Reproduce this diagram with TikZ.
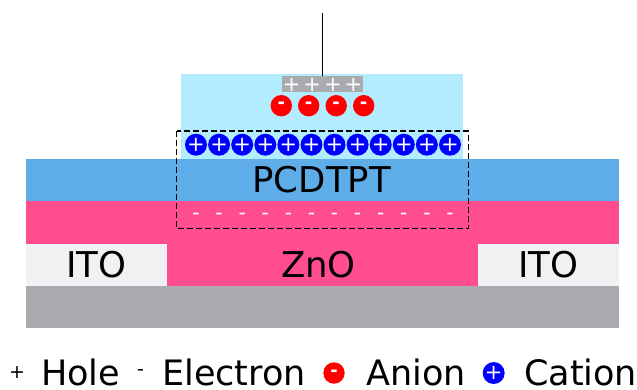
\documentclass[tikz,border=0pt]{standalone}
\usepackage{fontspec}
\setmainfont{DejaVu Sans}
\definecolor{gatelayer}{HTML}{B3ECFF}
\definecolor{pcdtptlayer}{HTML}{5FADE8}
\definecolor{znolayer}{HTML}{FF4D8F}
\definecolor{itolayer}{HTML}{F0F1F3}
\definecolor{subslayer}{HTML}{AAABAF}
\tikzset{
  layername/.style={anchor=base, inner sep=0pt, font=\fontsize{35.5}{35.5}\selectfont},
  legendname/.style={anchor=base west, inner sep=0pt, font=\fontsize{35}{35}\selectfont},
  anion/.style={circle, fill=red, minimum size=21.4pt, inner sep=0pt, text=white, font=\fontsize{18}{18}\selectfont\bfseries},
  cation/.style={circle, fill=blue, minimum size=21.4pt, inner sep=0pt, text=white, font=\fontsize{21}{21}\selectfont},
  gatebox/.style={fill=subslayer, minimum width=81pt, minimum height=16.4pt, inner sep=0pt},
  holemark/.style={inner sep=0pt, text=white, font=\fontsize{21}{21}\selectfont},
  electronmark/.style={inner sep=0pt, text=white, font=\fontsize{20}{20}\selectfont},
  legendmark/.style={inner sep=0pt, text=black, font=\fontsize{19}{19}\selectfont}
}
\begin{document}
\begin{tikzpicture}[x=1pt, y=-1pt]
\useasboundingbox (0,0) rectangle (637,389);
\fill[gatelayer] (181.3,74) rectangle (463.3,159);
\fill[pcdtptlayer] (26,159) rectangle (619,201);
\fill[znolayer] (26,201) rectangle (619,286);
\fill[itolayer] (26,243.5) rectangle (167,286);
\fill[itolayer] (478,243.5) rectangle (619,286);
\fill[subslayer] (26,286) rectangle (619,328);
\node[layername] (pcdtpt) at (321.7,192.7) {PCDTPT};
\node[layername] (itoleft) at (96.4,277.7) {ITO};
\node[layername] (zno) at (318.5,277.7) {ZnO};
\node[layername] (itoright) at (548.5,277.7) {ITO};
\node[gatebox] (gate) at (322.5,84.2) {};
\coordinate (probe) at (322.5,13);
\draw[line width=1pt] (probe) -- (gate.north);
\node[holemark] (hole1) at (291.7,84.7) {+};
\node[holemark] (hole2) at (312.2,84.7) {+};
\node[holemark] (hole3) at (332.8,84.7) {+};
\node[holemark] (hole4) at (353.3,84.7) {+};
\node[anion] (anion1) at (281.3,105.7) {\raisebox{-0.27em}{-}};
\node[anion] (anion2) at (308.7,105.7) {\raisebox{-0.27em}{-}};
\node[anion] (anion3) at (336.2,105.7) {\raisebox{-0.27em}{-}};
\node[anion] (anion4) at (363.7,105.7) {\raisebox{-0.27em}{-}};
\node[cation] (cation1) at (196,144.7) {+};
\node[cation] (cation2) at (219.1,144.7) {+};
\node[cation] (cation3) at (242.2,144.7) {+};
\node[cation] (cation4) at (265.3,144.7) {+};
\node[cation] (cation5) at (288.4,144.7) {+};
\node[cation] (cation6) at (311.5,144.7) {+};
\node[cation] (cation7) at (334.5,144.7) {+};
\node[cation] (cation8) at (357.6,144.7) {+};
\node[cation] (cation9) at (380.7,144.7) {+};
\node[cation] (cation10) at (403.8,144.7) {+};
\node[cation] (cation11) at (426.9,144.7) {+};
\node[cation] (cation12) at (450,144.7) {+};
\node[electronmark] (electron1) at (196,216) {\raisebox{-0.27em}{-}};
\node[electronmark] (electron2) at (219.1,216) {\raisebox{-0.27em}{-}};
\node[electronmark] (electron3) at (242.2,216) {\raisebox{-0.27em}{-}};
\node[electronmark] (electron4) at (265.3,216) {\raisebox{-0.27em}{-}};
\node[electronmark] (electron5) at (288.4,216) {\raisebox{-0.27em}{-}};
\node[electronmark] (electron6) at (311.5,216) {\raisebox{-0.27em}{-}};
\node[electronmark] (electron7) at (334.5,216) {\raisebox{-0.27em}{-}};
\node[electronmark] (electron8) at (357.6,216) {\raisebox{-0.27em}{-}};
\node[electronmark] (electron9) at (380.7,216) {\raisebox{-0.27em}{-}};
\node[electronmark] (electron10) at (403.8,216) {\raisebox{-0.27em}{-}};
\node[electronmark] (electron11) at (426.9,216) {\raisebox{-0.27em}{-}};
\node[electronmark] (electron12) at (450,216) {\raisebox{-0.27em}{-}};
\draw[line width=1.3pt, dash pattern=on 6pt off 3pt] (176.7,131) rectangle (468.3,228.7);
\node[legendmark] (holekey) at (17,373) {+};
\node[legendname] (holetext) at (41,385.7) {Hole};
\node[legendmark] (electronkey) at (140.5,373) {\raisebox{-0.27em}{-}};
\node[legendname] (electrontext) at (162,385.7) {Electron};
\node[anion] (anionkey) at (334,373) {\raisebox{-0.27em}{-}};
\node[legendname] (aniontext) at (366,385.7) {Anion};
\node[cation] (cationkey) at (493.7,373) {+};
\node[legendname] (cationtext) at (524,385.7) {Cation};
\end{tikzpicture}
\end{document}
